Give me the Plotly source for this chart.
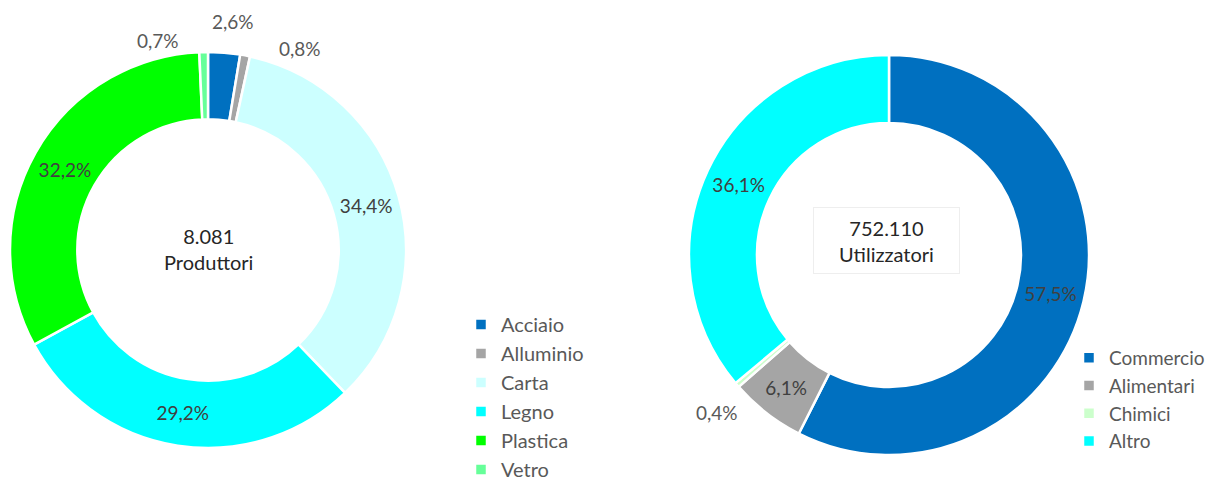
import math
import plotly.graph_objects as go

# Left donut: produttori by material
prod_labels = ["Acciaio", "Alluminio", "Carta", "Legno", "Plastica", "Vetro"]
prod_values = [2.6, 0.8, 34.4, 29.2, 32.2, 0.7]
prod_colors = ["#0070C0", "#A5A5A5", "#CCFFFF", "#00FFFF", "#00FF00", "#66FF99"]
prod_inside = [False, False, True, True, True, False]
prod_total = 8081
prod_title = "Produttori"

# Right donut: utilizzatori by sector
util_labels = ["Commercio", "Alimentari", "Chimici", "Altro"]
util_values = [57.5, 6.1, 0.4, 36.1]
util_colors = ["#0070C0", "#A5A5A5", "#CCFFCC", "#00FFFF"]
util_inside = [True, True, False, True]
util_total = 752110
util_title = "Utilizzatori"

W, H = 1206, 481
FONT = "Lato"


def px(x):
    return x / W


def py(y):
    return (H - y) / H


def thousands(n):
    return f"{n:,}".replace(",", ".")


def pct(v):
    return f"{v:.1f}".replace(".", ",") + "%"


# donut geometry (pixels): centre and outer radius
LEFT = dict(cx=208, cy=250, r=198)
RIGHT = dict(cx=889, cy=255, r=200)

# offsets (px) of the outside labels from the slice's outer-edge midpoint
LEFT_OUT_SHIFT = {0: (9, 31), 1: (55, 7), 5: (-46, 12)}
RIGHT_OUT_SHIFT = {2: (-20, -27)}

fig = go.Figure()

common = dict(
    hole=0.66,
    sort=False,
    direction="clockwise",
    rotation=0,
    textinfo="text",
    insidetextorientation="horizontal",
    insidetextfont=dict(family=FONT, size=19, color="#404040"),
    marker_line=dict(color="white", width=2.5),
    hoverinfo="label+percent",
)


def add_donut(labels, values, colors, inside, geo, legend, shifts):
    cx, cy, r = geo["cx"], geo["cy"], geo["r"]
    fig.add_trace(go.Pie(
        labels=labels, values=values, marker_colors=colors,
        text=[pct(v) if ins else "" for v, ins in zip(values, inside)],
        textposition=["inside" if ins else "none" for ins in inside],
        domain=dict(x=[px(cx - r), px(cx + r)], y=[py(cy + r), py(cy - r)]),
        legend=legend,
        **common,
    ))
    total = sum(values)
    cum = 0.0
    for i, v in enumerate(values):
        mid = 2 * math.pi * (cum + v / 2) / total
        cum += v
        if inside[i]:
            continue
        ex = cx + r * math.sin(mid)
        ey = cy - r * math.cos(mid)
        dx, dy = shifts.get(i, (0, 0))
        fig.add_annotation(
            x=px(ex), y=py(ey), xref="paper", yref="paper",
            xanchor="center", yanchor="middle",
            xshift=dx, yshift=dy,
            text=pct(v), showarrow=False,
            font=dict(family=FONT, size=19, color="#595959"),
        )


add_donut(prod_labels, prod_values, prod_colors, prod_inside, LEFT,
          "legend", LEFT_OUT_SHIFT)
add_donut(util_labels, util_values, util_colors, util_inside, RIGHT,
          "legend2", RIGHT_OUT_SHIFT)

fig.add_annotation(
    x=px(LEFT["cx"]), y=py(LEFT["cy"] - 1), xref="paper", yref="paper",
    xanchor="center", yanchor="middle",
    text=f"{thousands(prod_total)}<br>{prod_title}", showarrow=False,
    font=dict(family=FONT, size=20, color="#262626"),
)
fig.add_annotation(
    x=px(886), y=py(240), xref="paper", yref="paper",
    xanchor="center", yanchor="middle",
    text=f"{thousands(util_total)}<br>{util_title}", showarrow=False,
    font=dict(family=FONT, size=20, color="#262626"),
    bordercolor="#EEEEEE", borderwidth=1, borderpad=0,
    width=145, height=65,
)

legend_base = dict(
    bgcolor="rgba(0,0,0,0)",
    xanchor="left", yanchor="top",
    orientation="v",
)

fig.update_layout(
    width=W, height=H,
    margin=dict(l=0, r=0, t=0, b=0, autoexpand=False),
    paper_bgcolor="white",
    plot_bgcolor="white",
    showlegend=True,
    legend=dict(x=px(461), y=py(305),
                font=dict(family=FONT, size=20, color="#595959"),
                **legend_base),
    legend2=dict(x=px(1069), y=py(339),
                 font=dict(family=FONT, size=19, color="#595959"),
                 **legend_base),
)

fig.write_html(
    "out.html",
    config=dict(displayModeBar=False),
    post_script="document.body.style.margin='0';"
                "document.body.style.overflow='hidden';",
)
